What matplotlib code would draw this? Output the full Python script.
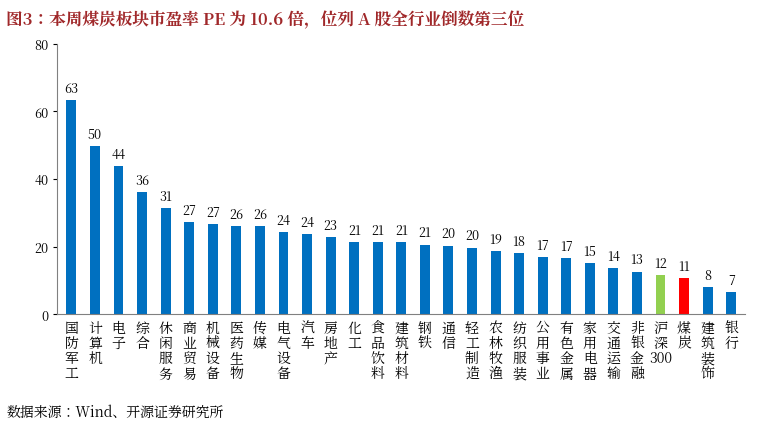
import matplotlib
matplotlib.use("Agg")
import matplotlib.pyplot as plt
from matplotlib import font_manager as fm

categories = ["国防军工","计算机","电子","综合","休闲服务","商业贸易","机械设备","医药生物","传媒",
              "电气设备","汽车","房地产","化工","食品饮料","建筑材料","钢铁","通信","轻工制造",
              "农林牧渔","纺织服装","公用事业","有色金属","家用电器","交通运输","非银金融","沪深300",
              "煤炭","建筑装饰","银行"]
values = [63.3,49.7,43.7,36.2,31.3,27.3,26.8,26.2,26.2,24.2,23.6,22.7,21.4,21.4,21.2,20.6,20.3,19.7,
          18.8,18.2,16.9,16.7,15.0,13.7,12.6,11.6,10.6,8.0,6.6]
value_labels = ["63","50","44","36","31","27","27","26","26","24","24","23","21","21","21","21","20","20",
                "19","18","17","17","15","14","13","12","11","8","7"]
colors = ["#0070C0"]*len(categories)
colors[categories.index("沪深300")] = "#92D050"
colors[categories.index("煤炭")] = "#FF0000"

# locate a CJK font file
cjk = None
for f in fm.findSystemFonts():
    if "NotoSansCJK" in f.replace(" ", "") or "NotoSerifCJK" in f.replace(" ", ""):
        cjk = f
        if "Serif" in f:
            break
if cjk:
    fm.fontManager.addfont(cjk)
    name = fm.FontProperties(fname=cjk).get_name()
    plt.rcParams["font.family"] = [name, "DejaVu Sans"]
else:
    plt.rcParams["font.family"] = ["Noto Sans CJK SC", "DejaVu Sans"]

fig = plt.figure(figsize=(7.74, 4.27), dpi=100)
ax = fig.add_axes([0.074, 0.262, 0.889, 0.633])
x = range(len(categories))
ax.bar(x, values, width=0.42, color=colors)
for i, v in enumerate(values):
    ax.text(i, v + 1.5, value_labels[i], ha="center", va="bottom", fontsize=9)
ax.set_ylim(0, 80)
ax.set_yticks(range(0, 81, 20))
ax.set_xlim(-0.6, len(categories) - 0.4)
ax.set_xticks(list(x))
def stack(s):
    out = []
    buf = ""
    for ch in s:
        if ch.isdigit():
            buf += ch
        else:
            out.append(ch)
    if buf:
        out.append(buf)
    return "\n".join(out)
ax.set_xticklabels([stack(c) for c in categories], fontsize=10, linespacing=0.95, va="top")
ax.tick_params(axis="x", length=0, pad=4)
ax.tick_params(axis="y", labelsize=9, direction="out", length=3)
for s in ["top", "right"]:
    ax.spines[s].set_visible(False)
ax.spines["left"].set_color("#808080")
ax.spines["bottom"].set_color("#808080")

fig.text(0.008, 0.975, "图3：本周煤炭板块市盈率 PE 为 10.6 倍，位列 A 股全行业倒数第三位",
         fontsize=12, fontweight="bold", color="#A0282A", va="top")
fig.text(0.008, 0.015, "数据来源：Wind、开源证券研究所", fontsize=10, va="bottom")
fig.savefig("out.png", dpi=100)
